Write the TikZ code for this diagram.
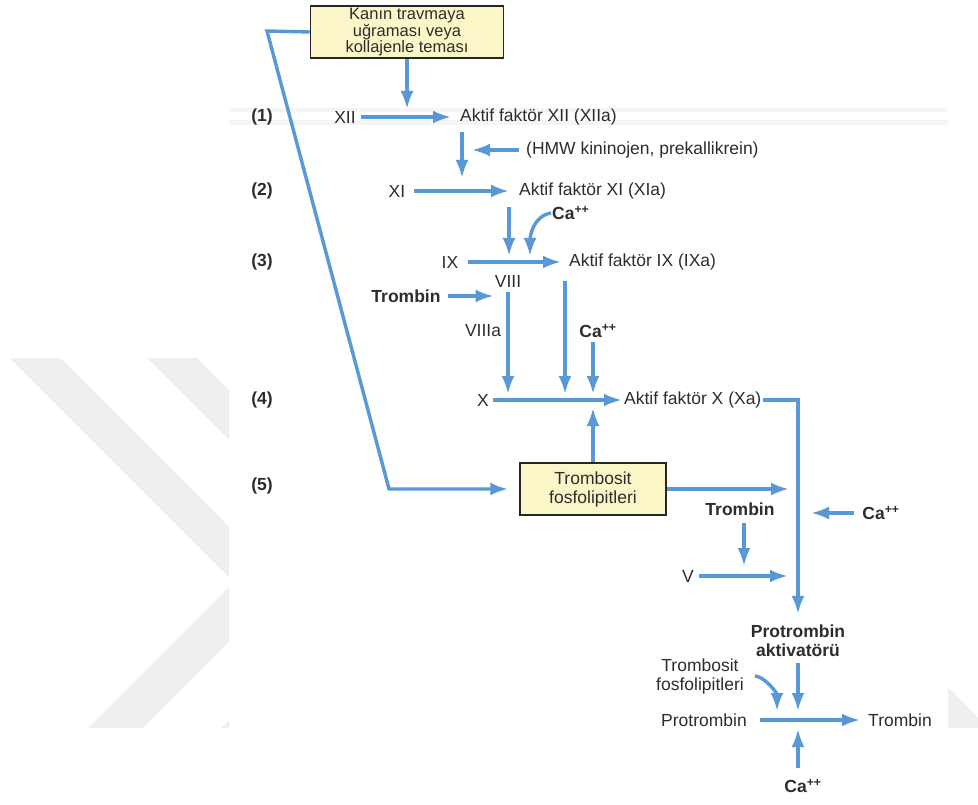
\documentclass[tikz,border=0pt]{standalone}
\usepackage{fontspec}
\setmainfont{Liberation Sans}
\usetikzlibrary{arrows.meta, positioning, calc}

\definecolor{okmavi}{RGB}{88,152,214}
\definecolor{kutusari}{RGB}{251,246,200}
\definecolor{yazi}{RGB}{45,45,45}
\definecolor{filigran}{RGB}{239,239,239}

\tikzset{
  >={Latex[length=18pt,width=13pt]},
  ok/.style={->, draw=okmavi, line width=3.4pt},
  yaz/.style={text=yazi, font=\fontsize{17.5}{19}\selectfont, inner sep=1pt},
  kalin/.style={text=yazi, font=\fontsize{17.5}{19}\selectfont\bfseries, inner sep=1pt},
  kutu/.style={draw=black!85, line width=1.5pt, fill=kutusari, align=center, text=yazi, inner sep=2pt}
}

\begin{document}
\begin{tikzpicture}[x=1pt, y=-1pt]
\useasboundingbox (0,0) rectangle (978,805);
\fill[white] (0,0) rectangle (978,805);
\fill[filigran] (10,358) -- (60,358) -- (286,584) -- (143,728) -- (88,728) -- (234,582) -- cycle;
\fill[filigran] (147,358) -- (197,358) -- (421,582) -- (276,728) -- (221,728) -- (369,580) -- cycle;
\fill[filigran] (948,687) -- (978,718) -- (978,728) -- (948,728) -- cycle;
\fill[white] (229,0) rectangle (948,805);
\draw[black!4, line width=4pt] (229,110) -- (948,110);
\draw[black!4, line width=5pt] (229,123) -- (948,123);

\node[kutu, minimum width=193pt, minimum height=52pt, font=\fontsize{16.5}{15}\selectfont] (kanin) at (407,32) {Kanın travmaya\\uğraması veya\\kollajenle teması};
\foreach \n/\y in {1/117,2/191,3/262,4/400,5/486}
  \node[kalin] (sira\n) at (262,\y) {(\n)};

\node[yaz] (xii) at (345,117) {XII};
\node[yaz, anchor=west] (xiia) at (459,117) {Aktif faktör XII (XIIa)};
\coordinate (k1) at (407,109);
\draw[ok] (kanin.south) -- (k1);
\draw[ok, shorten <=4pt, shorten >=8pt] (xii) -- (xiia);

\coordinate (x2ust) at (462,132);
\coordinate (x2alt) at (462,178);
\draw[ok] (x2ust) -- (x2alt);
\node[yaz, anchor=west] (hmw) at (525,150) {(HMW kininojen, prekallikrein)};
\draw[ok, shorten <=6pt, shorten >=10pt] (hmw.west) -- (x2alt |- hmw.west);

\node[yaz] (xi) at (397,191) {XI};
\node[yaz, anchor=west] (xia) at (518,191) {Aktif faktör XI (XIa)};
\draw[ok, shorten <=8pt, shorten >=9pt] (xi) -- (xia);

\coordinate (x3ust) at (509,207);
\coordinate (x3alt) at (509,256);
\draw[ok] (x3ust) -- (x3alt);
\node[kalin, anchor=west] (ca1) at (551,213) {Ca\textsuperscript{++}};
\coordinate (ca1uc) at (530,256);
\draw[ok] (ca1.west) to[out=190, in=90] (ca1uc);

\node[yaz] (ix) at (450,262) {IX};
\node[yaz, anchor=west] (ixa) at (568,262) {Aktif faktör IX (IXa)};
\draw[ok, shorten <=9pt, shorten >=7pt] (ix) -- (ixa);

\node[yaz] (viii) at (508,281) {VIII};
\node[kalin] (trombin1) at (406,296) {Trombin};
\draw[ok, shorten <=6pt] (trombin1) -- (trombin1 -| viii.west);
\coordinate (x4a) at (508,394);
\draw[ok, shorten <=4pt] (viii) -- (x4a);
\node[yaz] (viiia) at (483,331) {VIIIa};

\coordinate (ixaust) at (565,281);
\coordinate (ixaalt) at (565,394);
\draw[ok] (ixaust) -- (ixaalt);
\node[kalin] (ca2) at (598,331) {Ca\textsuperscript{++}};
\coordinate (x4c) at (593,394);
\draw[ok, shorten <=3pt] (ca2.south -| x4c) -- (x4c);

\node[yaz] (x) at (483,400) {X};
\node[yaz, anchor=west] (xa) at (623,400) {Aktif faktör X (Xa)};
\draw[ok, shorten <=3pt, shorten >=1pt] (x) -- (xa);

\node[kutu, minimum width=146pt, minimum height=52pt, font=\fontsize{17.5}{19}\selectfont] (trombosit) at (593,489) {Trombosit\\fosfolipitleri};
\coordinate (x4alt) at (593,408);
\draw[ok] (trombosit.north) -- (x4alt);

\coordinate (sol1) at (267,31);
\coordinate (sol2) at (389,489);
\draw[ok, shorten >=11pt] (kanin.west) -- (sol1) -- (sol2) -- (trombosit.west);

\node[kalin, align=center] (aktivator) at (798,641) {Protrombin\\aktivatörü};
\draw[ok, shorten >=10pt] (xa.east) -| (aktivator.north);

\coordinate (fx) at (789,489);
\draw[ok] (trombosit.east) -- (fx);
\node[kalin] (trombin2) at (740,509) {Trombin};
\coordinate (vok) at (744,566);
\draw[ok, shorten <=6pt] (trombin2.south -| vok) -- (vok);
\node[yaz] (v) at (688,576) {V};
\coordinate (vuc) at (788,576);
\draw[ok, shorten <=4pt] (v) -- (vuc);
\node[kalin] (ca3) at (881,513) {Ca\textsuperscript{++}};
\coordinate (ca3uc) at (811,513);
\draw[ok, shorten <=7pt] (ca3) -- (ca3uc);

\node[yaz, align=center] (trombosit2) at (700,676) {Trombosit\\fosfolipitleri};
\coordinate (egri) at (777,711);
\draw[ok, shorten <=10pt] (trombosit2.east) to[out=0, in=90] (egri);
\draw[ok, shorten <=5pt] (aktivator.south) -- (aktivator.south |- egri);

\node[yaz] (protrombin) at (704,720) {Protrombin};
\node[yaz] (trombin3) at (900,720) {Trombin};
\draw[ok, shorten <=12pt, shorten >=7pt] (protrombin) -- (trombin3);

\node[kalin] (ca4) at (803,786) {Ca\textsuperscript{++}};
\coordinate (cauc) at (798,729);
\draw[ok, shorten <=10pt] (ca4.north -| cauc) -- (cauc);
\end{tikzpicture}
\end{document}
